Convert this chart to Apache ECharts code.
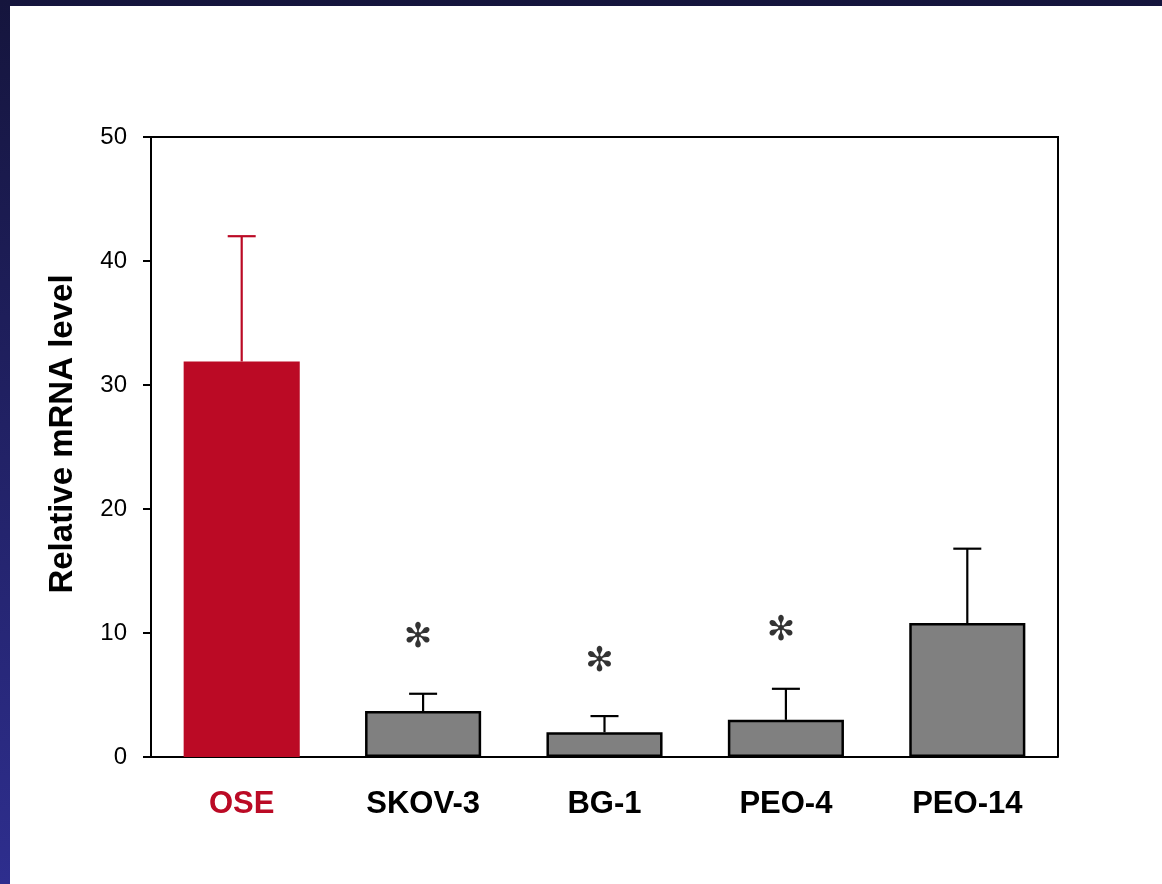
<!DOCTYPE html>
<html>
<head>
<meta charset="utf-8">
<script src="https://cdn.jsdelivr.net/npm/echarts@6/dist/echarts.min.js"></script>
<style>
  html, body { margin: 0; padding: 0; }
  body {
    width: 1162px; height: 884px; overflow: hidden; position: relative;
    background: linear-gradient(180deg, #15153d 0%, #2e2e8e 100%);
  }
  #chart {
    position: absolute; left: 10px; top: 6px;
    width: 1152px; height: 878px; background: #ffffff;
  }
</style>
</head>
<body>
<div id="chart"></div>
<script>
// cell lines
const categories = ['OSE', 'SKOV-3', 'BG-1', 'PEO-4', 'PEO-14']
// mean relative mRNA level
const means = [31.9, 3.7, 2.0, 3.0, 10.8]
// mean + error (top of the error bar)
const upper = [42.0, 5.1, 3.3, 5.5, 16.8]
// where the significance asterisks sit (null = none)
const starY = [null, 9.7, 7.7, 10.2, null]
// y axis ticks
const yTicks = { min: 0, max: 50, interval: 10 }

const red = '#bb0a25'
const grey = '#808080'

const chart = echarts.init(document.getElementById('chart'))

const option = {
  animation: false,
  backgroundColor: '#ffffff',
  grid: { left: 141, top: 131, width: 907, height: 620 },
  xAxis: {
    type: 'category',
    data: categories,
    axisLine: { lineStyle: { color: '#000', width: 2 } },
    axisTick: { show: false },
    axisLabel: {
      margin: 32,
      fontFamily: 'Liberation Sans, Arial, sans-serif',
      fontWeight: 'bold',
      fontSize: 31,
      color: function (v, i) { return i === 0 ? red : '#000' }
    },
    splitLine: { show: false }
  },
  yAxis: {
    type: 'value',
    min: yTicks.min,
    max: yTicks.max,
    interval: yTicks.interval,
    axisLine: { show: true, lineStyle: { color: '#000', width: 2 } },
    axisTick: { show: true, inside: false, length: 8, lineStyle: { color: '#000', width: 2 } },
    axisLabel: {
      margin: 24,
      fontFamily: 'Liberation Sans, Arial, sans-serif',
      fontSize: 24,
      color: '#000'
    },
    splitLine: { show: false }
  },
  graphic: [
    // frame top + right side
    {
      type: 'polyline',
      shape: { points: [[141, 131], [1048, 131], [1048, 751]] },
      style: { stroke: '#000', lineWidth: 2, fill: null },
      z: 10
    },
    {
      type: 'text',
      x: 53, y: 428,
      rotation: Math.PI / 2,
      style: {
        text: 'Relative mRNA level',
        fontFamily: 'Liberation Sans, Arial, sans-serif',
        fontWeight: 'bold',
        fontSize: 33,
        fill: '#000',
        align: 'center',
        verticalAlign: 'middle'
      }
    }
  ],
  series: [
    {
      type: 'bar',
      data: means.map(function (v, i) {
        return {
          value: v,
          itemStyle: i === 0
            ? { color: red, borderWidth: 0 }
            : { color: grey, borderColor: '#000', borderWidth: 2.5 }
        }
      }),
      barWidth: '64%',
      z: 2
    },
    {
      type: 'custom',
      data: means.map(function (v, i) { return [i, v, upper[i]] }),
      renderItem: function (params, api) {
        const lo = api.coord([api.value(0), api.value(1)])
        const hi = api.coord([api.value(0), api.value(2)])
        const col = api.value(0) === 0 ? red : '#000'
        const half = 14
        return {
          type: 'group',
          children: [
            { type: 'line', shape: { x1: lo[0], y1: lo[1], x2: hi[0], y2: hi[1] },
              style: { stroke: col, lineWidth: 2.2 } },
            { type: 'line', shape: { x1: hi[0] - half, y1: hi[1], x2: hi[0] + half, y2: hi[1] },
              style: { stroke: col, lineWidth: 2.2 } }
          ]
        }
      },
      z: 3
    },
    {
      type: 'scatter',
      data: starY.map(function (v, i) { return v === null ? null : [i, v] }).filter(Boolean),
      symbolSize: 1,
      itemStyle: { color: 'rgba(0,0,0,0)' },
      label: {
        show: true,
        position: 'inside',
        formatter: '\u273B',
        fontFamily: 'DejaVu Sans, sans-serif',
        fontSize: 34,
        color: '#000',
        offset: [-5, 1]
      },
      z: 4
    }
  ]
}

chart.setOption(option)
</script>
</body>
</html>
